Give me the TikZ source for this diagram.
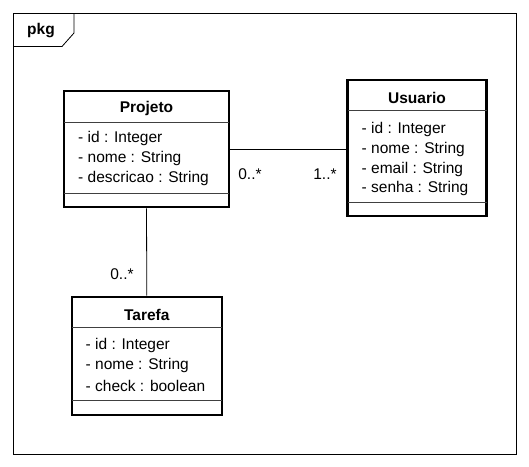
\documentclass[tikz,border=0pt]{standalone}
\usepackage{fontspec}
\setmainfont{Liberation Sans}
\begin{document}
\begin{tikzpicture}[x=1pt,y=-1pt,
  classbox/.style={draw=black,line width=2.6pt,inner sep=0pt,fill=white},
  sepline/.style={draw=black!75,line width=0.9pt},
  ttl/.style={font=\fontsize{15.5}{17}\selectfont\bfseries,inner sep=0pt},
  attr/.style={font=\fontsize{15.5}{17}\selectfont,inner sep=0pt,anchor=west},
  mult/.style={font=\fontsize{15.5}{17}\selectfont,inner sep=0pt},
  conn/.style={draw=black,line width=0.8pt}]
\useasboundingbox (0,0) rectangle (529,466);
% package frame
\draw[line width=0.8pt] (13,13) rectangle (516.5,454);
\draw[line width=0.8pt] (13,46.5) -- (62,46.5) -- (74,33) -- (74,13);
\node[font=\fontsize{15.5}{17}\selectfont\bfseries,inner sep=0pt] (pkg) at (41,31) {pkg};
% Projeto
\node[classbox,minimum width=165pt,minimum height=116pt] (projeto) at (146.5,149) {};
\draw[sepline] (64,122) -- (229,122);
\draw[sepline] (64,193) -- (229,193);
\node[ttl] (pt) at (146.5,108) {Projeto};
\node[attr] (p1) at (78,138) {- id : Integer};
\node[attr] (p2) at (78,158) {- nome : String};
\node[attr] (p3) at (78,178.5) {- descricao : String};
% Usuario
\node[classbox,minimum width=139pt,minimum height=136pt] (usuario) at (417,148) {};
\draw[sepline] (347.5,110.5) -- (486.5,110.5);
\draw[sepline] (347.5,202.5) -- (486.5,202.5);
\node[ttl] (ut) at (417,97.5) {Usuario};
\node[attr] (u1) at (361.5,129) {- id : Integer};
\node[attr] (u2) at (361.5,149) {- nome : String};
\node[attr] (u3) at (361.5,169) {- email : String};
\node[attr] (u4) at (361.5,188.5) {- senha : String};
% Tarefa
\node[classbox,minimum width=150pt,minimum height=118pt] (tarefa) at (146.8,356) {};
\draw[sepline] (71.8,327.5) -- (221.8,327.5);
\draw[sepline] (71.8,400) -- (221.8,400);
\node[ttl] (tt) at (146.8,314.5) {Tarefa};
\node[attr] (t1) at (85.5,345.5) {- id : Integer};
\node[attr] (t2) at (85.5,365.5) {- nome : String};
\node[attr] (t3) at (85.5,385.5) {- check : boolean};
% connectors
\draw[conn] (projeto.east) -- (usuario.west |- projeto.east);
\draw[conn] (projeto.south) -- (tarefa.north);
\node[mult] (m1) at (250,174) {0..*};
\node[mult] (m2) at (325,174) {1..*};
\node[mult] (m3) at (122,274) {0..*};
\end{tikzpicture}
\end{document}
